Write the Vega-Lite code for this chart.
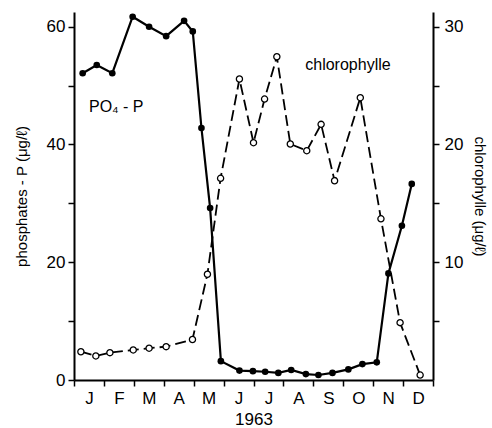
{
  "$schema": "https://vega.github.io/schema/vega-lite/v6.json",
  "width": 359,
  "height": 368,
  "autosize": "none",
  "padding": {"left": 74, "top": 12, "right": 59, "bottom": 48},
  "background": "white",
  "config": {
    "view": {"stroke": null},
    "font": "Liberation Sans",
    "axis": {
      "grid": false,
      "domainColor": "black",
      "domainWidth": 2,
      "tickColor": "black",
      "tickWidth": 1.5,
      "tickSize": 6,
      "labelColor": "black",
      "labelFont": "Liberation Sans",
      "labelFontSize": 17,
      "labelOverlap": false,
      "titleColor": "black",
      "titleFont": "Liberation Sans",
      "titleFontWeight": "normal",
      "titleFontSize": 15
    }
  },
  "datasets": {
    "phos": [
      {"month": 0.29, "value": 52.1},
      {"month": 0.76, "value": 53.5},
      {"month": 1.28, "value": 52.1},
      {"month": 1.96, "value": 61.7},
      {"month": 2.51, "value": 60.0},
      {"month": 3.08, "value": 58.4},
      {"month": 3.68, "value": 61.0},
      {"month": 3.97, "value": 59.2},
      {"month": 4.26, "value": 42.8},
      {"month": 4.55, "value": 29.2},
      {"month": 4.91, "value": 3.2},
      {"month": 5.53, "value": 1.6},
      {"month": 5.98, "value": 1.5},
      {"month": 6.39, "value": 1.4},
      {"month": 6.83, "value": 1.2},
      {"month": 7.26, "value": 1.7},
      {"month": 7.75, "value": 1.0},
      {"month": 8.17, "value": 0.85},
      {"month": 8.64, "value": 1.2},
      {"month": 9.17, "value": 1.8},
      {"month": 9.64, "value": 2.7},
      {"month": 10.12, "value": 3.0},
      {"month": 10.51, "value": 18.1},
      {"month": 10.96, "value": 26.2},
      {"month": 11.29, "value": 33.3}
    ],
    "chl": [
      {"month": 0.23, "chl": 2.4},
      {"month": 0.73, "chl": 2.04},
      {"month": 1.2, "chl": 2.32},
      {"month": 1.98, "chl": 2.55},
      {"month": 2.51, "chl": 2.7},
      {"month": 3.08, "chl": 2.83},
      {"month": 3.96, "chl": 3.44},
      {"month": 4.46, "chl": 8.98},
      {"month": 4.9, "chl": 17.13},
      {"month": 5.53, "chl": 25.56},
      {"month": 6.0, "chl": 20.15},
      {"month": 6.37, "chl": 23.86},
      {"month": 6.78, "chl": 27.45},
      {"month": 7.23, "chl": 20.04},
      {"month": 7.78, "chl": 19.47},
      {"month": 8.26, "chl": 21.71},
      {"month": 8.71, "chl": 16.92},
      {"month": 9.57, "chl": 23.97},
      {"month": 10.26, "chl": 13.69},
      {"month": 10.9, "chl": 4.87},
      {"month": 11.57, "chl": 0.42}
    ],
    "labels": [
      {"month": 0.5, "value": 46.4, "text": "PO₄ - P"},
      {"month": 7.73, "value": 53.5, "text": "chlorophylle"}
    ]
  },
  "encoding": {
    "x": {
      "field": "month",
      "type": "quantitative",
      "scale": {"domain": [0, 12], "nice": false, "zero": false},
      "axis": {
        "orient": "bottom",
        "values": [0, 1, 2, 3, 4, 5, 6, 7, 8, 9, 10, 11, 12],
        "labelExpr": "datum.value < 12 ? ['J','F','M','A','M','J','J','A','S','O','N','D'][datum.value] : ''",
        "labelOffset": 15,
        "labelPadding": 4,
        "labelFlush": false,
        "labelOverlap": false,
        "labelBound": false,
        "title": "1963",
        "titleFontSize": 17,
        "titlePadding": 5
      }
    }
  },
  "layer": [
    {
      "encoding": {
        "y": {
          "field": "value",
          "type": "quantitative",
          "scale": {"domain": [0, 62.5], "nice": false},
          "axis": {
            "orient": "left",
            "values": [0, 10, 20, 30, 40, 50, 60],
            "labelExpr": "datum.value % 20 == 0 ? datum.label : ''",
            "labelPadding": 3,
            "title": "phosphates - P (μg/ℓ)",
            "titlePadding": 17
          }
        }
      },
      "layer": [
        {
          "data": {"name": "phos"},
          "mark": {"type": "line", "color": "black", "strokeWidth": 2.2}
        },
        {
          "data": {"name": "phos"},
          "mark": {"type": "point", "shape": "circle", "filled": true, "color": "black", "size": 44, "opacity": 1}
        },
        {
          "data": {"name": "labels"},
          "mark": {"type": "text", "align": "left", "baseline": "middle", "fontSize": 16, "font": "Liberation Sans", "color": "black"},
          "encoding": {"text": {"field": "text"}}
        }
      ]
    },
    {
      "data": {"name": "chl"},
      "encoding": {
        "y": {
          "field": "chl",
          "type": "quantitative",
          "scale": {"domain": [0, 31.25], "nice": false},
          "axis": {
            "orient": "right",
            "values": [5, 10, 15, 20, 25, 30],
            "labelExpr": "datum.value % 10 == 0 ? datum.label : ''",
            "labelPadding": 5,
            "title": "chlorophylle (μg/ℓ)",
            "titlePadding": 9
          }
        }
      },
      "layer": [
        {
          "mark": {"type": "line", "color": "black", "strokeWidth": 1.8, "strokeDash": [11, 5]}
        },
        {
          "mark": {"type": "point", "shape": "circle", "filled": true, "fill": "white", "stroke": "black", "strokeWidth": 1.3, "size": 38, "opacity": 1}
        }
      ]
    }
  ],
  "resolve": {"scale": {"y": "independent"}}
}
